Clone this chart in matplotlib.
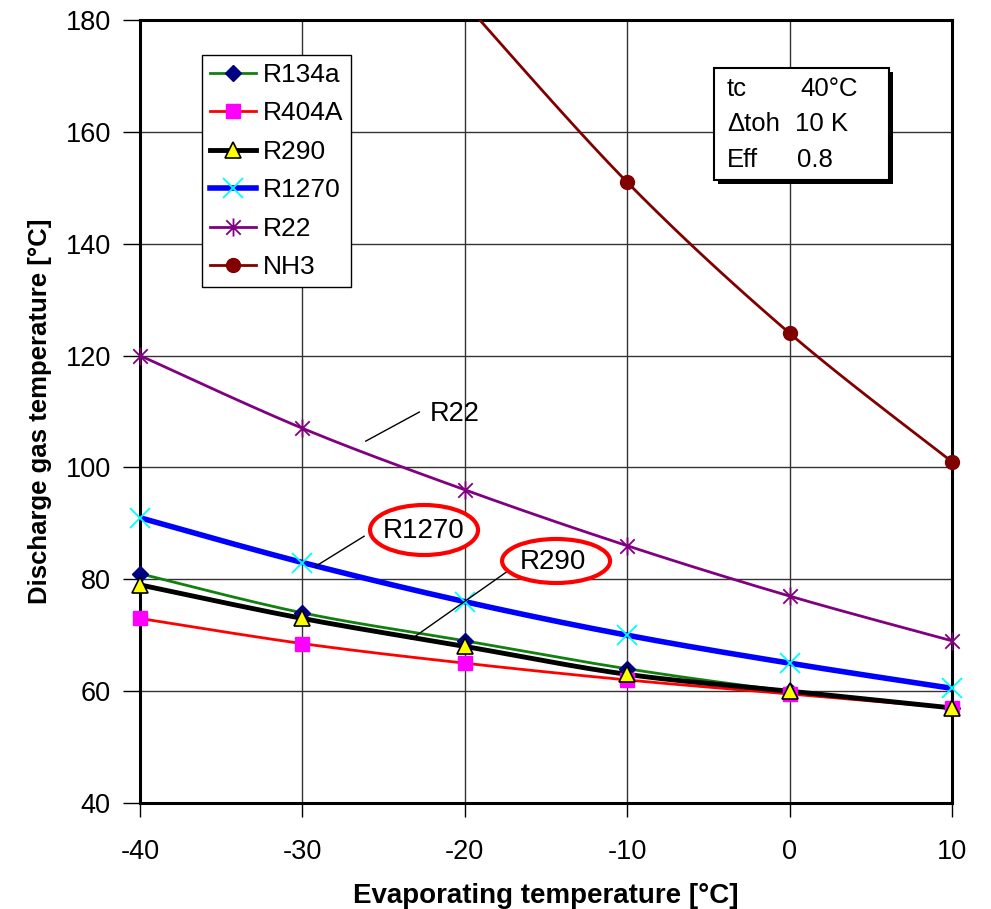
import numpy as np
import matplotlib
matplotlib.use("Agg")
import matplotlib.pyplot as plt
from matplotlib.path import Path
from matplotlib.patches import Ellipse, Rectangle
from matplotlib.lines import Line2D

plt.rcParams['font.family'] = ['Liberation Sans', 'DejaVu Sans']

# ---------------- data ----------------
evap_temp = [-40, -30, -20, -10, 0, 10]
r134a = [81, 74, 69, 64, 60, 57]
r404a = [73, 68.5, 65, 62, 59.5, 57]
r290 = [79, 73, 68, 63, 60, 57]
r1270 = [91, 83, 76, 70, 65, 60.5]
r22 = [120, 107, 96, 86, 77, 69]
nh3_temp = [-20, -10, 0, 10]
nh3 = [183, 151, 124, 101]

x_ticks = [-40, -30, -20, -10, 0, 10]
y_ticks = [40, 60, 80, 100, 120, 140, 160, 180]

info_keys = ["tc", "\u0394toh", "Eff"]
info_vals = ["40°C", "10 K", "0.8"]

W, H = 991, 909


def fx(px):
    return px / W


def fy(py):
    return 1 - py / H


def smooth(xs, ys, n=40):
    """Excel-like smoothed line (Catmull-Rom / Bezier with 1/6 tension)."""
    P = np.column_stack([xs, ys]).astype(float)
    out = [P[0]]
    m = len(P)
    for i in range(m - 1):
        p0 = P[i - 1] if i > 0 else P[i]
        p1 = P[i]
        p2 = P[i + 1]
        p3 = P[i + 2] if i + 2 < m else P[i + 1]
        c1 = p1 + (p2 - p0) / 6
        c2 = p2 - (p3 - p1) / 6
        t = np.linspace(0, 1, n)[1:, None]
        seg = ((1 - t) ** 3) * p1 + 3 * ((1 - t) ** 2) * t * c1 + 3 * (1 - t) * t ** 2 * c2 + t ** 3 * p2
        out.extend(seg)
    out = np.array(out)
    return out[:, 0], out[:, 1]


star = Path([(0, -1), (0, 1), (-0.8, -0.8), (0.8, 0.8), (-0.8, 0.8), (0.8, -0.8)],
            [Path.MOVETO, Path.LINETO, Path.MOVETO, Path.LINETO, Path.MOVETO, Path.LINETO])

series = [
    ("R134a", evap_temp, r134a, dict(color="#118011", lw=2.0, marker="D", ms=8.5, mfc="#000080", mec="#000080", mew=1)),
    ("R404A", evap_temp, r404a, dict(color="#ff0000", lw=2.0, marker="s", ms=10, mfc="#ff00ff", mec="#ff00ff", mew=1)),
    ("R290", evap_temp, r290, dict(color="#000000", lw=3.5, marker="^", ms=12, mfc="#ffff00", mec="#000000", mew=1.2)),
    ("R1270", evap_temp, r1270, dict(color="#0000ff", lw=4.0, marker="x", ms=14, mfc="#00ffff", mec="#00ffff", mew=1.3)),
    ("R22", evap_temp, r22, dict(color="#800080", lw=2.0, marker=star, ms=13, mfc="#800080", mec="#800080", mew=1.3)),
    ("NH3", nh3_temp, nh3, dict(color="#800000", lw=2.0, marker="o", ms=10, mfc="#800000", mec="#800000", mew=1)),
]

fig = plt.figure(figsize=(W / 100, H / 100), dpi=100)
ax = fig.add_axes([fx(140), fy(803), fx(952) - fx(140), fy(20) - fy(803)])
ax.set_xlim(-40, 10)
ax.set_ylim(40, 180)

handles = []
for z, (name, xs, ys, st) in enumerate(series):
    sx, sy = smooth(xs, ys)
    ax.plot(sx, sy, color=st["color"], lw=st["lw"], solid_capstyle="butt", zorder=3 + z)
    xs_a = np.array(xs, float)
    ys_a = np.array(ys, float)
    vis = ys_a <= 180
    ax.plot(xs_a[vis], ys_a[vis], ls="none", marker=st["marker"], ms=st["ms"], mfc=st["mfc"],
            mec=st["mec"], mew=st["mew"], clip_on=False, zorder=10 + z)
    handles.append(Line2D([0], [0], color=st["color"], lw=st["lw"], marker=st["marker"], ms=st["ms"],
                          mfc=st["mfc"], mec=st["mec"], mew=st["mew"]))

ax.set_xticks(x_ticks)
ax.set_yticks(y_ticks)
ax.set_xticklabels([str(v) for v in x_ticks])
ax.set_yticklabels([str(v) for v in y_ticks])
ax.tick_params(axis="y", direction="out", length=12, width=1, pad=9, labelsize=19.5)
ax.tick_params(axis="x", direction="out", length=10, width=1, pad=16, labelsize=19.5)
ax.grid(True, color="#333333", lw=1.0)
ax.set_axisbelow(True)
for sp in ax.spines.values():
    sp.set_linewidth(2.2)
    sp.set_color("black")

ax.set_xlabel("Evaporating temperature [°C]", fontsize=20, fontweight="bold", labelpad=13)
ax.set_ylabel("Discharge gas temperature [°C]", fontsize=18.5, fontweight="bold", labelpad=10)

leg = ax.legend(handles, [s[0] for s in series], loc="upper left",
                bbox_to_anchor=((202 - 140) / 812, (803 - 55) / 783),
                frameon=True, fancybox=False, framealpha=1, edgecolor="black",
                fontsize=19, handlelength=1.75, handletextpad=0.25, labelspacing=0.55,
                borderpad=0.3, borderaxespad=0)
leg.get_frame().set_linewidth(1.0)
leg.set_zorder(30)

# info box with shadow
fig.patches.append(Rectangle((fx(718), fy(184)), fx(893) - fx(718), fy(72) - fy(184),
                             transform=fig.transFigure, facecolor="black", edgecolor="none", zorder=40))
fig.patches.append(Rectangle((fx(714), fy(180)), fx(889) - fx(714), fy(68) - fy(180),
                             transform=fig.transFigure, facecolor="white", edgecolor="black", lw=1.5, zorder=41))
rows_y = [89, 124, 160]
col2_x = [800, 795, 797]
for k, v, py, cx in zip(info_keys, info_vals, rows_y, col2_x):
    fig.text(fx(727), fy(py), k, fontsize=18.5, va="center", ha="left", zorder=42)
    fig.text(fx(cx), fy(py), v, fontsize=18.5, va="center", ha="left", zorder=42)

# annotations
ax.text(-20.6, 109.6, "R22", fontsize=19.5, ha="center", va="center", zorder=20)
ax.plot([-26.1, -22.8], [104.7, 109.9], color="black", lw=1, zorder=20)

ax.add_patch(Ellipse((-22.51, 88.81), 6.65, 8.94, facecolor="white", edgecolor="#ff0000", lw=3, zorder=21))
ax.text(-22.51, 88.6, "R1270", fontsize=20, ha="center", va="center", zorder=22)
ax.plot([-29.2, -26.2], [82.3, 87.7], color="black", lw=1, zorder=20)

ax.add_patch(Ellipse((-14.38, 83.27), 6.65, 7.87, facecolor="white", edgecolor="#ff0000", lw=3, zorder=21))
ax.text(-14.6, 83.1, "R290", fontsize=20, ha="center", va="center", zorder=22)
ax.plot([-23.3, -16.8], [69.3, 82.6], color="black", lw=1, zorder=20)

fig.savefig("out.png", dpi=100)
